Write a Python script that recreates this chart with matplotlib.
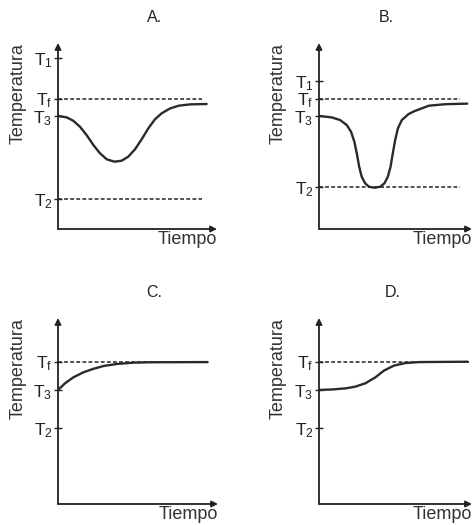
import matplotlib.pyplot as plt

plt.rcParams['font.family'] = ['Liberation Sans', 'DejaVu Sans']
plt.rcParams['mathtext.default'] = 'regular'

# ---------- Dati ------------ #
titles = ['A.', 'B.', 'C.', 'D.']

tick_labels_a = ['$T_1$', '$T_f$', '$T_3$', '$T_2$']
levels_a = [92, 70, 60.5, 16]
dashed_a = [70, 16]
curve_x_a = [0, 5.5, 9.6, 13.8, 18.0, 22.2, 26.4, 30.6, 35.4, 40.0, 44.2, 48.4, 52.6, 56.8,
             61.0, 65.2, 70.4, 76, 83, 93.5]
curve_y_a = [60.8, 60.0, 58.2, 55.0, 50.5, 45.2, 40.7, 37.5, 36.2, 36.7, 38.9, 42.8, 48.2, 54.1,
             59.0, 62.2, 64.8, 66.3, 67, 67.2]

tick_labels_b = ['$T_1$', '$T_f$', '$T_3$', '$T_2$']
levels_b = [79.6, 70, 60.8, 22.4]
dashed_b = [70, 22.4]
curve_x_b = [0, 8.0, 13.2, 17.4, 20.1, 22.2, 23.7, 25.2, 26.8, 28.9, 31.4, 34.8, 38.4, 41.1,
             43.2, 44.9, 46.3, 47.8, 49.5, 52, 56.2, 60, 69, 79.4, 93]
curve_y_b = [60.8, 60.0, 58.6, 55.9, 52.3, 46.9, 40.7, 33.5, 28.1, 24.6, 22.7, 22.2, 22.7, 24.6,
             28.1, 33.5, 40.7, 47.8, 54.1, 58.6, 61.8, 63.4, 66.3, 67.1, 67.4]

tick_labels_c = ['$T_f$', '$T_3$', '$T_2$']
levels_c = [76.5, 61.3, 40.9]
dashed_c = [76.5]
curve_x_c = [0, 4.4, 9.6, 15.9, 22.2, 28.5, 36.9, 47.4, 57.9, 93.5]
curve_y_c = [61.3, 64.9, 68.1, 70.8, 72.7, 74.2, 75.3, 76, 76.2, 76.3]

tick_labels_d = ['$T_f$', '$T_3$', '$T_2$']
levels_d = [76.5, 61.3, 40.9]
dashed_d = [76.5]
curve_x_d = [0, 8.6, 17, 22.8, 29.1, 35.4, 40.7, 47, 54.3, 62.7, 93.3]
curve_y_d = [61.3, 61.6, 62.2, 63.1, 64.9, 68.1, 71.7, 74.4, 75.8, 76.3, 76.5]

# ---------- Layout (pixel) ------------ #
W, H = 477, 525
# left, top, right, bottom in pixel, xmax, fine tratteggio, titolo x, ylabel x
layout = [
    (58, 43, 217, 229, 100, 90.6, 0.61, -0.25),
    (319, 43, 472, 229, 96, 88.7, 0.44, -0.27),
    (58, 318, 218, 504, 100, 94, 0.60, -0.25),
    (319, 318, 472, 504, 96, 94, 0.48, -0.27),
]
panels = [
    (tick_labels_a, levels_a, dashed_a, curve_x_a, curve_y_a),
    (tick_labels_b, levels_b, dashed_b, curve_x_b, curve_y_b),
    (tick_labels_c, levels_c, dashed_c, curve_x_c, curve_y_c),
    (tick_labels_d, levels_d, dashed_d, curve_x_d, curve_y_d),
]

fig = plt.figure(figsize=(W / 100, H / 100), dpi=100)

for title, (labels, levels, dashed, cx, cy), lay in zip(titles, panels, layout):
    left, top, right, bottom, xmax, dash_end, tx, lx = lay
    ax = fig.add_axes([left / W, 1 - bottom / H, (right - left) / W, (bottom - top) / H])
    ax.set_xlim(0, xmax)
    ax.set_ylim(0, 100)
    for s in ax.spines.values():
        s.set_visible(False)

    # assi con frecce
    for end in [(1, 0), (0, 1)]:
        ax.annotate('', xy=end, xytext=(0, 0), xycoords='axes fraction',
                    arrowprops=dict(arrowstyle='-|>', lw=1.3, color='#222222', mutation_scale=9,
                                    shrinkA=0, shrinkB=0))

    for d in dashed:
        ax.plot([0, dash_end], [d, d], color='#222222', lw=1.1, linestyle=(0, (2.5, 1.5)))

    ax.plot(cx, cy, color='#2a2a2a', lw=1.7, solid_capstyle='round', solid_joinstyle='round')

    ax.set_xticks([])
    ax.set_yticks(levels, labels)
    ax.tick_params(axis='y', direction='inout', length=6, width=1, pad=1,
                   labelsize=12.5, colors='#222222')

    ax.set_title(title, x=tx, y=1.07, fontsize=11.5, color='#222222')
    ax.text(lx, 0.73, 'Temperatura', rotation=90, ha='center', va='center',
            transform=ax.transAxes, fontsize=13, color='#333333')
    ax.text(1.0, -0.01, 'Tiempo', ha='right', va='top',
            transform=ax.transAxes, fontsize=13, color='#333333')

plt.savefig('out.png', dpi=100)
